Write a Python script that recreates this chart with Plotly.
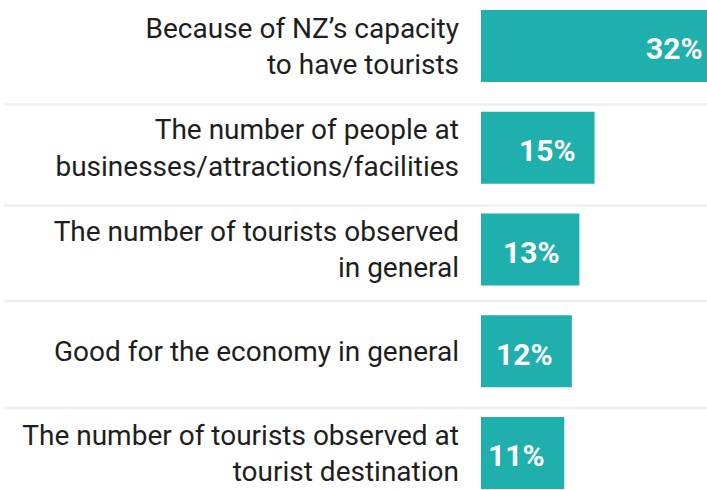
import plotly.graph_objects as go

categories = [
    "Because of NZ’s capacity<br>to have tourists",
    "The number of people at<br>businesses/attractions/facilities",
    "The number of tourists observed<br>in general",
    "Good for the economy in general",
    "The number of tourists observed at<br>tourist destination",
]
values = [32, 15, 13, 12, 11]
value_labels = ["32%", "15%", "13%", "12%", "11%"]
separator_positions = [0.575, 1.568, 2.506, 3.558]

X_MAX = 29.86
BAR_COLOR = "#1FAFAD"
FONT = "Roboto"

fig = go.Figure()
fig.add_trace(go.Bar(
    x=values,
    y=categories,
    orientation="h",
    width=0.708,
    marker=dict(color=BAR_COLOR, line=dict(width=0)),
    hoverinfo="skip",
    showlegend=False,
))

for v, lab, cat in zip(values, value_labels, categories):
    clipped = v > X_MAX
    fig.add_annotation(
        x=min(v, X_MAX), y=cat, xref="x", yref="y",
        text=lab, showarrow=False,
        xanchor="right", yanchor="middle",
        xshift=-2 if clipped else -17, yshift=-3,
        font=dict(family=FONT, size=30, color="white", weight="bold"),
    )

for yp in separator_positions:
    fig.add_shape(
        type="line", xref="paper", yref="y",
        x0=-2.11, x1=1.0, y0=yp, y1=yp,
        line=dict(color="#EFEFEF", width=2.5),
        layer="below",
    )

fig.update_layout(
    width=707, height=490,
    margin=dict(l=481, r=0, t=0, b=0, autoexpand=False),
    paper_bgcolor="white", plot_bgcolor="white",
    font=dict(family=FONT, size=28, color="#1e1e1e"),
    xaxis=dict(range=[0, X_MAX], visible=False, fixedrange=True, automargin=False),
    yaxis=dict(
        range=[4.364, -0.452],
        showgrid=False, zeroline=False, showline=False,
        ticks="", ticklabelstandoff=21, automargin=False,
        tickfont=dict(family=FONT, size=28, color="#1e1e1e"),
        fixedrange=True,
    ),
)

fig.write_html(
    "out.html",
    config={"displayModeBar": False},
    post_script="document.body.style.margin='0';document.body.style.overflow='hidden';",
)
